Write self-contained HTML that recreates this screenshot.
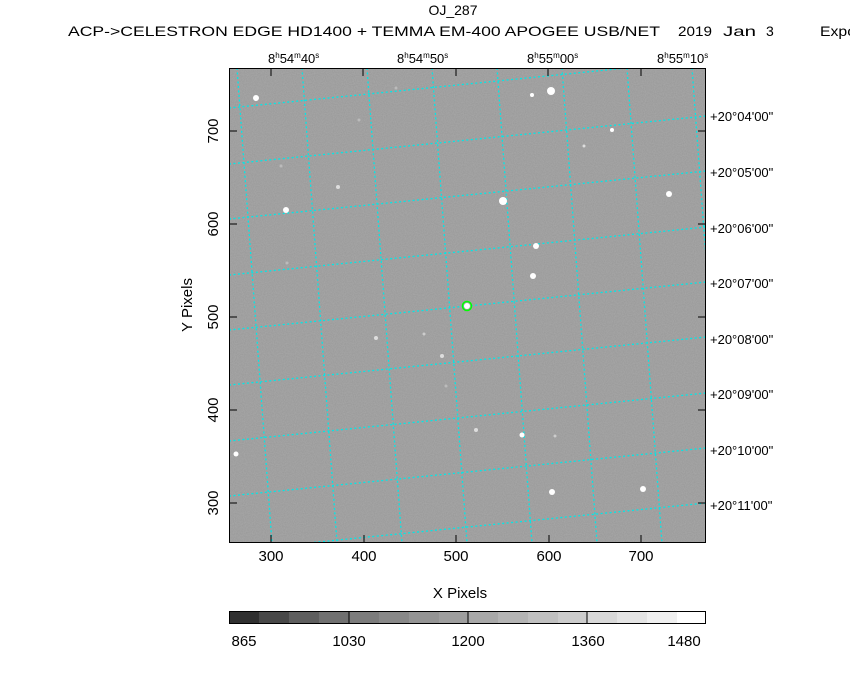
<!DOCTYPE html>
<html><head><meta charset="utf-8"><style>
html,body{margin:0;padding:0;background:#fff;}
svg{display:block;}
text{font-family:"Liberation Sans",sans-serif;fill:#000;}
</style></head><body>
<svg width="850" height="680" viewBox="0 0 850 680" xmlns="http://www.w3.org/2000/svg">
<text x="453" y="15" font-size="14" text-anchor="middle">OJ_287</text>
<text x="68" y="36" font-size="14" textLength="592" lengthAdjust="spacingAndGlyphs">ACP-&gt;CELESTRON EDGE HD1400 + TEMMA EM-400 APOGEE USB/NET</text>
<text x="678" y="36" font-size="14" textLength="34" lengthAdjust="spacingAndGlyphs">2019</text>
<text x="723" y="36" font-size="14" textLength="33" lengthAdjust="spacingAndGlyphs">Jan</text>
<text x="766" y="36" font-size="14">3</text>
<text x="820" y="36" font-size="14" textLength="36" lengthAdjust="spacingAndGlyphs">Expo</text>

<defs><clipPath id="c"><rect x="229" y="68" width="477" height="475"/></clipPath>
<filter id="n" x="0" y="0" width="100%" height="100%"><feTurbulence type="fractalNoise" baseFrequency="0.9" numOctaves="1" seed="3"/><feColorMatrix type="matrix" values="0 0 0 0 0.6  0 0 0 0 0.6  0 0 0 0 0.6  0 0 0 0.35 0"/></filter></defs>
<rect x="229" y="68" width="477" height="475" fill="#979797"/>
<rect x="229" y="68" width="477" height="475" filter="url(#n)"/>
<g clip-path="url(#c)">
<g stroke="#00e8e8" stroke-width="1.3" stroke-dasharray="2 2.5" fill="none">
<line x1="229" y1="53" x2="706" y2="5"/>
<line x1="229" y1="108" x2="706" y2="60"/>
<line x1="229" y1="164" x2="706" y2="116"/>
<line x1="229" y1="219" x2="706" y2="171"/>
<line x1="229" y1="275" x2="706" y2="227"/>
<line x1="229" y1="330" x2="706" y2="282"/>
<line x1="229" y1="385" x2="706" y2="337"/>
<line x1="229" y1="441" x2="706" y2="393"/>
<line x1="229" y1="496" x2="706" y2="448"/>
<line x1="229" y1="551" x2="706" y2="503"/>
<line x1="237" y1="68" x2="272" y2="543"/>
<line x1="302" y1="68" x2="337" y2="543"/>
<line x1="367" y1="68" x2="402" y2="543"/>
<line x1="432" y1="68" x2="467" y2="543"/>
<line x1="497" y1="68" x2="532" y2="543"/>
<line x1="562" y1="68" x2="597" y2="543"/>
<line x1="627" y1="68" x2="662" y2="543"/>
<line x1="692" y1="68" x2="727" y2="543"/>
</g>
<g fill="#fff">
<circle cx="256" cy="98" r="3"/><circle cx="551" cy="91" r="4"/><circle cx="532" cy="95" r="2"/>
<circle cx="612" cy="130" r="2"/><circle cx="584" cy="146" r="1.5" fill="#ddd"/><circle cx="503" cy="201" r="4"/>
<circle cx="669" cy="194" r="3"/><circle cx="286" cy="210" r="3"/><circle cx="338" cy="187" r="2" fill="#ddd"/>
<circle cx="536" cy="246" r="3"/><circle cx="533" cy="276" r="3"/><circle cx="467" cy="306" r="3"/>
<circle cx="376" cy="338" r="2" fill="#ddd"/><circle cx="442" cy="356" r="2" fill="#ddd"/><circle cx="424" cy="334" r="1.5" fill="#ccc"/>
<circle cx="522" cy="435" r="2.5"/><circle cx="476" cy="430" r="2" fill="#ddd"/><circle cx="555" cy="436" r="1.5" fill="#ccc"/>
<circle cx="236" cy="454" r="2.5"/><circle cx="552" cy="492" r="3"/><circle cx="643" cy="489" r="3"/>
<circle cx="396" cy="88" r="1.5" fill="#bbb"/><circle cx="359" cy="120" r="1.5" fill="#bbb"/><circle cx="281" cy="166" r="1.5" fill="#bbb"/>
<circle cx="287" cy="263" r="1.5" fill="#bbb"/><circle cx="446" cy="386" r="1.5" fill="#bbb"/>
</g>
<circle cx="467" cy="306" r="4.5" fill="none" stroke="#00ff00" stroke-width="1.5"/>
</g>
<rect x="229.5" y="68.5" width="476" height="474" fill="none" stroke="#000" stroke-width="1"/>
<g stroke="#000" stroke-width="1">
<line x1="271" y1="543" x2="271" y2="535"/><line x1="364" y1="543" x2="364" y2="535"/><line x1="456" y1="543" x2="456" y2="535"/><line x1="549" y1="543" x2="549" y2="535"/><line x1="641" y1="543" x2="641" y2="535"/>
<line x1="271" y1="68" x2="271" y2="76"/><line x1="363" y1="68" x2="363" y2="76"/><line x1="456" y1="68" x2="456" y2="76"/><line x1="548" y1="68" x2="548" y2="76"/><line x1="641" y1="68" x2="641" y2="76"/>
<line x1="229" y1="131" x2="237" y2="131"/><line x1="229" y1="224" x2="237" y2="224"/><line x1="229" y1="317" x2="237" y2="317"/><line x1="229" y1="410" x2="237" y2="410"/><line x1="229" y1="503" x2="237" y2="503"/>
<line x1="706" y1="131" x2="698" y2="131"/><line x1="706" y1="224" x2="698" y2="224"/><line x1="706" y1="317" x2="698" y2="317"/><line x1="706" y1="410" x2="698" y2="410"/><line x1="706" y1="503" x2="698" y2="503"/>
</g>
<g font-size="15" text-anchor="middle">
<text x="271" y="561">300</text><text x="364" y="561">400</text><text x="456" y="561">500</text><text x="549" y="561">600</text><text x="641" y="561">700</text>
<text x="460" y="598">X Pixels</text>
<text transform="translate(218,131) rotate(-90)">700</text>
<text transform="translate(218,224) rotate(-90)">600</text>
<text transform="translate(218,317) rotate(-90)">500</text>
<text transform="translate(218,410) rotate(-90)">400</text>
<text transform="translate(218,503) rotate(-90)">300</text>
<text transform="translate(192,305) rotate(-90)">Y Pixels</text>
</g>
<g font-size="13">
<text x="268" y="63">8<tspan font-size="8" dy="-5">h</tspan><tspan dy="5">54</tspan><tspan font-size="8" dy="-5">m</tspan><tspan dy="5">40</tspan><tspan font-size="8" dy="-5">s</tspan></text>
<text x="397" y="63">8<tspan font-size="8" dy="-5">h</tspan><tspan dy="5">54</tspan><tspan font-size="8" dy="-5">m</tspan><tspan dy="5">50</tspan><tspan font-size="8" dy="-5">s</tspan></text>
<text x="527" y="63">8<tspan font-size="8" dy="-5">h</tspan><tspan dy="5">55</tspan><tspan font-size="8" dy="-5">m</tspan><tspan dy="5">00</tspan><tspan font-size="8" dy="-5">s</tspan></text>
<text x="657" y="63">8<tspan font-size="8" dy="-5">h</tspan><tspan dy="5">55</tspan><tspan font-size="8" dy="-5">m</tspan><tspan dy="5">10</tspan><tspan font-size="8" dy="-5">s</tspan></text>
</g>
<g font-size="13">
<text x="710" y="121">+20°04'00"</text><text x="710" y="177">+20°05'00"</text><text x="710" y="233">+20°06'00"</text><text x="710" y="288">+20°07'00"</text>
<text x="710" y="344">+20°08'00"</text><text x="710" y="399">+20°09'00"</text><text x="710" y="455">+20°10'00"</text><text x="710" y="510">+20°11'00"</text>
</g>
<g>
<rect x="229" y="611" width="30" height="12" fill="#303030"/><rect x="259" y="611" width="30" height="12" fill="#484848"/>
<rect x="289" y="611" width="30" height="12" fill="#5e5e5e"/><rect x="319" y="611" width="30" height="12" fill="#707070"/>
<rect x="349" y="611" width="30" height="12" fill="#7c7c7c"/><rect x="379" y="611" width="30" height="12" fill="#888"/>
<rect x="409" y="611" width="30" height="12" fill="#949494"/><rect x="439" y="611" width="30" height="12" fill="#9e9e9e"/>
<rect x="468" y="611" width="30" height="12" fill="#a8a8a8"/><rect x="498" y="611" width="30" height="12" fill="#b4b4b4"/>
<rect x="528" y="611" width="30" height="12" fill="#c0c0c0"/><rect x="558" y="611" width="30" height="12" fill="#cccccc"/>
<rect x="587" y="611" width="30" height="12" fill="#d8d8d8"/><rect x="617" y="611" width="30" height="12" fill="#e4e4e4"/>
<rect x="647" y="611" width="30" height="12" fill="#f0f0f0"/><rect x="677" y="611" width="29" height="12" fill="#fff"/>
<rect x="229.5" y="611.5" width="476" height="12" fill="none" stroke="#000"/>
<line x1="349" y1="611" x2="349" y2="623" stroke="#000"/><line x1="468" y1="611" x2="468" y2="623" stroke="#000"/><line x1="587" y1="611" x2="587" y2="623" stroke="#000"/>
</g>
<g font-size="15" text-anchor="middle">
<text x="244" y="646">865</text><text x="349" y="646">1030</text><text x="468" y="646">1200</text><text x="588" y="646">1360</text><text x="684" y="646">1480</text>
</g>
</svg>
</body></html>
